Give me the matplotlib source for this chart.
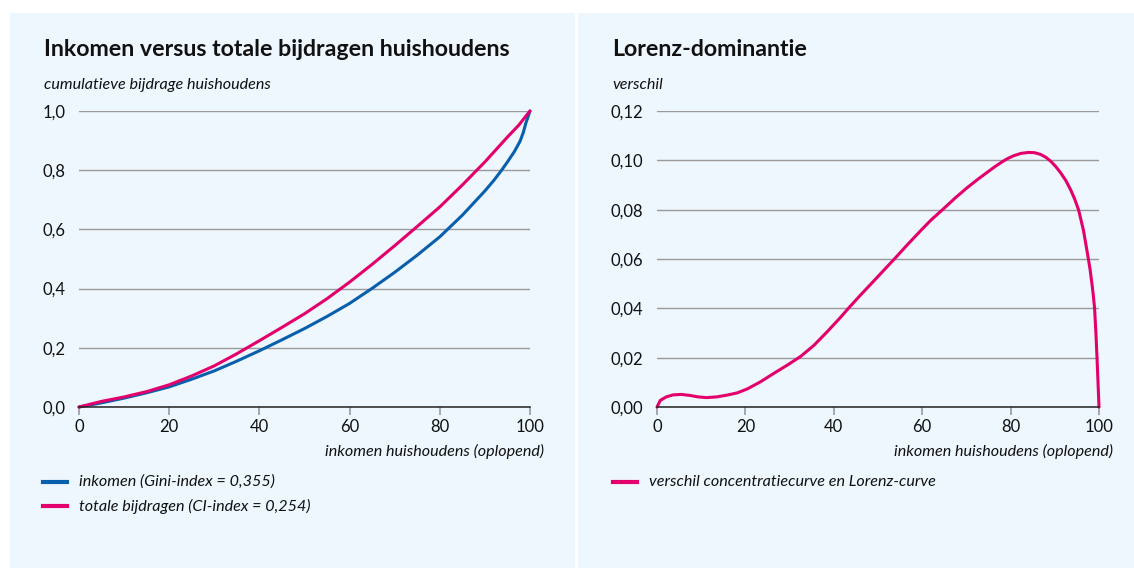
import matplotlib
matplotlib.use("Agg")
import matplotlib.pyplot as plt
from matplotlib.patches import Rectangle
from matplotlib.lines import Line2D

# ---------------- data ----------------
# Left chart: cumulative shares (x = % households ordered by income)
lorenz_x = [0, 5, 10, 15, 20, 25, 30, 35, 40, 45, 50, 55, 60, 65, 70, 75, 80, 85, 90, 92, 93.7, 95, 96.5, 97.8, 98.5, 99.1, 99.6, 100]
lorenz_y = [0, 0.014, 0.030, 0.048, 0.068, 0.094, 0.122, 0.155, 0.190, 0.227, 0.265, 0.306, 0.350, 0.401, 0.455, 0.513, 0.575, 0.648, 0.730, 0.766, 0.800, 0.828, 0.862, 0.898, 0.927, 0.960, 0.982, 1.0]

conc_x = [0, 5, 10, 15, 20, 25, 30, 35, 40, 45, 50, 55, 60, 65, 70, 75, 80, 85, 88.2, 90, 95, 97.5, 99.1, 100]
conc_y = [0, 0.019, 0.034, 0.052, 0.075, 0.105, 0.139, 0.180, 0.224, 0.269, 0.315, 0.366, 0.422, 0.482, 0.545, 0.610, 0.676, 0.750, 0.800, 0.828, 0.912, 0.952, 0.983, 1.0]

# Right chart: difference concentration curve - Lorenz curve
diff_x = [0, 0.75, 2.1, 3.6, 5.5, 7.4, 9.3, 11.2, 13.5, 15.8, 18.1, 20.4, 23.4, 26.4, 29.5, 32.5, 35.5, 38.5, 41.5, 43.3,
          46, 49, 51.5, 53.7, 56.5, 59.5, 62, 64.6, 67.5, 70.1, 72.5, 74.6, 76.5, 78.0, 79.3, 80.6, 82.3, 84.0, 85.4,
          86.8, 88.0, 89.1, 90.2, 91.3, 92.5, 93.6, 94.5, 95.4, 96.5, 97.6, 98.0, 98.4, 98.7, 99.0, 99.3, 99.55, 99.8, 100]
diff_y = [0, 0.0027, 0.0041, 0.0049, 0.0051, 0.0047, 0.0041, 0.0038, 0.0041, 0.0048, 0.0057, 0.0073, 0.0102, 0.0136,
          0.0170, 0.0205, 0.0250, 0.0305, 0.0363, 0.0400, 0.0453, 0.0510, 0.0558, 0.0600, 0.0655, 0.0712, 0.0758,
          0.0800, 0.0848, 0.0888, 0.0922, 0.0950, 0.0975, 0.0993, 0.1007, 0.1018, 0.1028, 0.1032, 0.1031, 0.1024,
          0.1012, 0.0996, 0.0975, 0.0950, 0.0918, 0.0880, 0.0843, 0.0798, 0.0715, 0.0600, 0.0555, 0.0500, 0.0455,
          0.0400, 0.0300, 0.0200, 0.0090, 0]

left_title = "Inkomen versus totale bijdragen huishoudens"
left_ylabel = "cumulatieve bijdrage huishoudens"
right_title = "Lorenz-dominantie"
right_ylabel = "verschil"
xlabel = "inkomen huishoudens (oplopend)"
left_yticks = [0.0, 0.2, 0.4, 0.6, 0.8, 1.0]
right_yticks = [0.0, 0.02, 0.04, 0.06, 0.08, 0.10, 0.12]
xticks = [0, 20, 40, 60, 80, 100]
legend_left = ["inkomen (Gini-index = 0,355)", "totale bijdragen (CI-index = 0,254)"]
legend_right = ["verschil concentratiecurve en Lorenz-curve"]

# ---------------- style ----------------
W, H = 1134, 571
BLUE = "#0a5fac"
PINK = "#e3006c"
PANEL = "#edf7fd"
GRID = "#9a9a9a"
FONT = "Lato"
TITLE_FS = 16.7
LABEL_FS = 11.6
TICK_FS = 12

plt.rcParams["font.family"] = [FONT, "DejaVu Sans"]

fig = plt.figure(figsize=(W / 100, H / 100), dpi=100)
fig.patch.set_facecolor("white")


def fx(x):
    return x / W


def fy(y):
    return 1 - y / H


# panels
fig.add_artist(Rectangle((fx(10), fy(568)), fx(565), 555 / H, transform=fig.transFigure,
                         facecolor=PANEL, edgecolor="none", zorder=0))
fig.add_artist(Rectangle((fx(578), fy(568)), fx(556), 555 / H, transform=fig.transFigure,
                         facecolor=PANEL, edgecolor="none", zorder=0))


def make_axes(x0, x1, y0, y1):
    ax = fig.add_axes([fx(x0), fy(y1), fx(x1 - x0), (y1 - y0) / H])
    ax.set_facecolor("none")
    for s in ["left", "right", "top"]:
        ax.spines[s].set_visible(False)
    ax.spines["bottom"].set_color("#222222")
    ax.spines["bottom"].set_linewidth(1.1)
    ax.spines["bottom"].set_zorder(5)
    ax.set_xlim(0, 100)
    ax.set_xticks(xticks)
    ax.set_xticklabels([str(t) for t in xticks])
    ax.tick_params(axis="x", length=6, width=1.2, color="#9a9a9a", pad=3,
                   labelsize=TICK_FS, labelcolor="#111111")
    ax.tick_params(axis="y", length=0, pad=10, labelsize=TICK_FS, labelcolor="#111111")
    ax.grid(axis="y", color=GRID, linewidth=1.0)
    ax.set_axisbelow(True)
    return ax


# left chart
axL = make_axes(79, 530, 111, 407)
axL.set_ylim(0, 1.0)
axL.set_yticks(left_yticks)
axL.set_yticklabels([f"{v:.1f}".replace(".", ",") for v in left_yticks])
axL.plot(lorenz_x, lorenz_y, color=BLUE, lw=2.2, solid_capstyle="round", solid_joinstyle="round", zorder=3, clip_on=False)
axL.plot(conc_x, conc_y, color=PINK, lw=2.2, solid_capstyle="round", solid_joinstyle="round", zorder=4, clip_on=False)

# right chart
axR = make_axes(657, 1099, 111, 407)
axR.set_ylim(0, 0.12)
axR.set_yticks(right_yticks)
axR.set_yticklabels([f"{v:.2f}".replace(".", ",") for v in right_yticks])
axR.plot(diff_x, diff_y, color=PINK, lw=2.2, solid_capstyle="round", solid_joinstyle="round", zorder=4, clip_on=False)

# titles & labels
fig.text(fx(44), fy(49), left_title, fontsize=TITLE_FS, fontweight="bold", color="#111111", va="center", ha="left")
fig.text(fx(44), fy(85), left_ylabel, fontsize=LABEL_FS, style="italic", color="#111111", va="center", ha="left")
fig.text(fx(612), fy(49), right_title, fontsize=TITLE_FS, fontweight="bold", color="#111111", va="center", ha="left")
fig.text(fx(612), fy(85), right_ylabel, fontsize=LABEL_FS, style="italic", color="#111111", va="center", ha="left")
fig.text(fx(544), fy(451), xlabel, fontsize=LABEL_FS, style="italic", color="#111111", va="center", ha="right")
fig.text(fx(1113), fy(451), xlabel, fontsize=LABEL_FS, style="italic", color="#111111", va="center", ha="right")

# legends
for i, (lab, col) in enumerate(zip(legend_left, [BLUE, PINK])):
    y = 482 + i * 24
    fig.add_artist(Line2D([fx(43), fx(67)], [fy(y), fy(y)], color=col, lw=3, transform=fig.transFigure))
    fig.text(fx(79), fy(y), lab, fontsize=LABEL_FS, style="italic", color="#111111", va="center", ha="left")
for i, (lab, col) in enumerate(zip(legend_right, [PINK])):
    y = 482 + i * 24
    fig.add_artist(Line2D([fx(613), fx(637)], [fy(y), fy(y)], color=col, lw=3, transform=fig.transFigure))
    fig.text(fx(649), fy(y), lab, fontsize=LABEL_FS, style="italic", color="#111111", va="center", ha="left")

fig.savefig("out.png", dpi=100, facecolor="white")
